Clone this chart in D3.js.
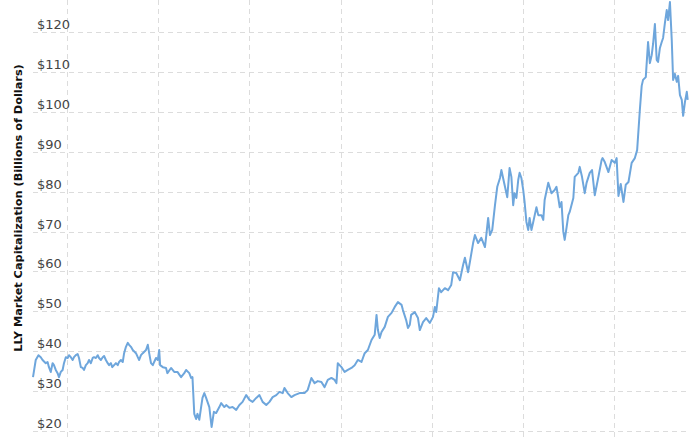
<!DOCTYPE html>
<html>
<head>
<meta charset="utf-8">
<script src="https://cdn.jsdelivr.net/npm/d3@7"></script>
<style>
  html, body { margin: 0; padding: 0; background: #fff; }
  svg { display: block; }
</style>
</head>
<body>
<div id="chart"></div>
<script>
// ---- data (decimal year, market cap in $B) ----
const years = [
  2005.25,2005.31,2005.37,2005.42,2005.46,2005.53,2005.57,2005.60,2005.64,2005.68,
  2005.71,2005.75,2005.79,2005.82,2005.86,2005.90,2005.93,2005.97,2006.01,2006.04,
  2006.08,2006.12,2006.15,2006.19,2006.23,2006.26,2006.30,2006.34,2006.37,2006.41,
  2006.45,2006.48,2006.52,2006.56,2006.59,2006.63,2006.67,2006.70,2006.74,2006.78,
  2006.81,2006.85,2006.89,2006.92,2006.96,2006.99,2007.03,2007.07,2007.11,2007.14,
  2007.18,2007.22,2007.25,2007.29,2007.33,2007.36,2007.40,2007.44,2007.51,2007.55,
  2007.58,2007.62,2007.66,2007.73,2007.77,2007.80,2007.84,2007.88,2007.91,2007.95,
  2007.99,2008.02,2008.04,2008.10,2008.17,2008.20,2008.28,2008.35,2008.42,2008.50,
  2008.57,2008.61,2008.68,2008.72,2008.75,2008.79,2008.83,2008.86,2008.90,2008.94,
  2008.97,2009.01,2009.05,2009.08,2009.12,2009.17,2009.22,2009.27,2009.34,2009.38,
  2009.45,2009.49,2009.56,2009.63,2009.71,2009.78,2009.85,2009.93,2010.00,2010.07,
  2010.15,2010.22,2010.29,2010.37,2010.44,2010.51,2010.59,2010.66,2010.73,2010.77,
  2010.84,2010.92,2010.99,2011.10,2011.21,2011.28,2011.36,2011.43,2011.50,2011.58,
  2011.65,2011.72,2011.80,2011.87,2011.91,2011.94,2012.02,2012.09,2012.16,2012.24,
  2012.31,2012.38,2012.46,2012.53,2012.60,2012.68,2012.75,2012.79,2012.82,2012.86,
  2012.90,2012.97,2013.04,2013.12,2013.19,2013.26,2013.34,2013.37,2013.44,2013.48,
  2013.52,2013.55,2013.63,2013.70,2013.74,2013.81,2013.88,2013.96,2014.03,2014.07,
  2014.10,2014.16,2014.21,2014.29,2014.36,2014.43,2014.47,2014.54,2014.62,2014.69,
  2014.73,2014.80,2014.84,2014.91,2014.95,2015.02,2015.09,2015.17,2015.20,2015.24,
  2015.28,2015.33,2015.39,2015.44,2015.50,2015.53,2015.60,2015.66,2015.71,2015.75,
  2015.79,2015.82,2015.86,2015.90,2015.93,2015.97,2016.01,2016.04,2016.08,2016.12,
  2016.15,2016.19,2016.23,2016.30,2016.34,2016.41,2016.45,2016.48,2016.56,2016.63,
  2016.70,2016.74,2016.78,2016.81,2016.85,2016.89,2016.92,2016.96,2017.00,2017.03,
  2017.11,2017.14,2017.22,2017.25,2017.30,2017.36,2017.40,2017.47,2017.52,2017.58,
  2017.66,2017.73,2017.75,2017.80,2017.88,2017.95,2018.02,2018.06,2018.10,2018.15,
  2018.21,2018.26,2018.32,2018.39,2018.46,2018.51,2018.57,2018.61,2018.64,2018.70,
  2018.75,2018.79,2018.83,2018.86,2018.90,2018.94,2018.97,2019.01,2019.05,2019.08,
  2019.12,2019.16,2019.19,2019.23,2019.27,2019.30,2019.34,2019.38,2019.41,2019.45,
  2019.49,2019.52,2019.56,2019.60,2019.62
];
const marketCap = [
  33.5,37.8,39.0,38.5,37.8,37.0,37.3,36.0,34.8,37.0,
  36.5,35.3,34.5,33.5,34.8,35.3,37.0,38.5,38.3,39.0,
  38.5,37.8,38.5,39.0,39.3,38.3,36.0,35.8,35.3,36.5,
  37.0,37.8,37.0,38.3,38.5,38.3,39.0,38.3,37.8,38.5,
  38.8,37.8,37.0,36.5,37.0,36.0,36.5,37.0,36.5,37.3,
  37.8,37.3,39.5,41.1,42.1,41.6,41.1,40.3,39.5,38.5,
  37.8,39.0,39.5,40.3,41.6,39.5,37.0,36.5,37.3,38.3,
  37.8,40.3,36.5,36.0,35.8,34.5,35.8,34.8,34.8,33.5,
  34.5,35.3,34.5,33.3,33.5,24.3,23.0,24.3,22.8,26.0,
  28.3,29.5,28.3,27.3,26.0,21.0,24.8,24.5,26.0,27.0,
  26.0,26.5,25.8,26.0,25.3,26.5,27.3,29.0,27.8,27.3,
  28.3,29.0,27.3,26.5,27.3,28.5,29.0,29.8,29.5,30.8,
  29.5,28.5,29.0,29.5,29.5,30.3,33.3,32.0,32.5,32.3,
  31.0,32.8,33.3,32.8,32.0,37.0,36.0,34.8,35.3,35.8,
  36.5,37.8,37.3,39.5,40.3,42.8,44.1,49.1,45.3,43.3,
  44.8,46.1,48.6,49.6,51.1,52.3,51.6,50.3,47.8,45.8,
  46.6,49.1,49.8,48.3,45.3,47.3,48.3,47.1,48.6,51.1,
  49.8,55.8,54.8,55.8,55.3,56.6,59.8,59.6,57.8,61.6,
  63.4,59.8,62.4,67.1,69.1,67.1,68.4,66.1,69.1,73.4,
  69.1,70.4,76.6,81.2,83.4,85.4,81.7,78.6,85.9,83.7,
  76.6,79.6,78.4,82.9,84.7,83.4,80.4,77.4,72.4,70.4,
  73.4,70.4,72.4,76.1,74.1,74.1,72.9,77.9,82.2,79.6,
  80.4,81.2,78.4,76.1,77.4,69.9,67.9,70.9,74.1,74.9,
  78.4,83.7,84.7,86.2,83.7,79.6,82.2,84.7,85.4,79.1,
  83.7,87.9,88.4,87.4,84.9,87.9,87.2,88.4,78.9,81.9,
  77.4,81.7,82.4,87.2,88.4,90.4,100.5,106.5,108.0,108.7,
  117.5,112.2,114.2,117.0,122.0,113.0,112.5,116.0,117.5,118.5,
  122.3,125.5,123.0,127.5,118.0,108.0,109.5,107.5,109.0,104.2,
  103.0,99.0,102.5,105.0,103.0
];
const yTicks = [20, 30, 40, 50, 60, 70, 80, 90, 100, 110, 120];
const xGridYears = [2006, 2008, 2010, 2012, 2014, 2016, 2018];
const yTitle = "LLY Market Capitalization (Billions of Dollars)";

// ---- layout ----
const W = 700, H = 441;
const plotLeft = 33, plotRight = 690;

const data = years.map((y, i) => ({ t: y, v: marketCap[i] }));

const svg = d3.select("#chart").append("svg")
  .attr("width", W).attr("height", H)
  .style("font-family", "'DejaVu Sans', Verdana, sans-serif");

const x = d3.scaleLinear()
  .domain(d3.extent(years))
  .range([33, 687.7]);

const y = d3.scaleLinear()
  .domain([20, 120])
  .range([431, 32]);

// horizontal grid
svg.append("g").selectAll("line").data(yTicks).join("line")
  .attr("x1", plotLeft).attr("x2", plotRight)
  .attr("y1", d => Math.round(y(d)) + 0.5).attr("y2", d => Math.round(y(d)) + 0.5)
  .attr("stroke", "#dcdcdc").attr("stroke-width", 1)
  .attr("stroke-dasharray", "5,4");

// vertical grid
svg.append("g").selectAll("line").data(xGridYears).join("line")
  .attr("x1", d => Math.round(x(d)) + 0.5).attr("x2", d => Math.round(x(d)) + 0.5)
  .attr("y1", 0).attr("y2", H)
  .attr("stroke", "#dcdcdc").attr("stroke-width", 1)
  .attr("stroke-dasharray", "5,4");

// line
const line = d3.line().x(d => x(d.t)).y(d => y(d.v));
svg.append("path").datum(data)
  .attr("d", line)
  .attr("fill", "none")
  .attr("stroke", "#6ea6dc")
  .attr("stroke-width", 2)
  .attr("stroke-linejoin", "round");

// y tick labels (inside plot)
svg.append("g").selectAll("text").data(yTicks).join("text")
  .attr("x", 37)
  .attr("y", d => y(d) - 3)
  .attr("font-size", 13)
  .attr("fill", "#444")
  .text(d => "$" + d);

// y title
svg.append("text")
  .attr("transform", `translate(22,208) rotate(-90)`)
  .attr("text-anchor", "middle")
  .attr("font-size", 11.3)
  .attr("font-weight", "bold")
  .attr("fill", "#111")
  .text(yTitle);
</script>
</body>
</html>
